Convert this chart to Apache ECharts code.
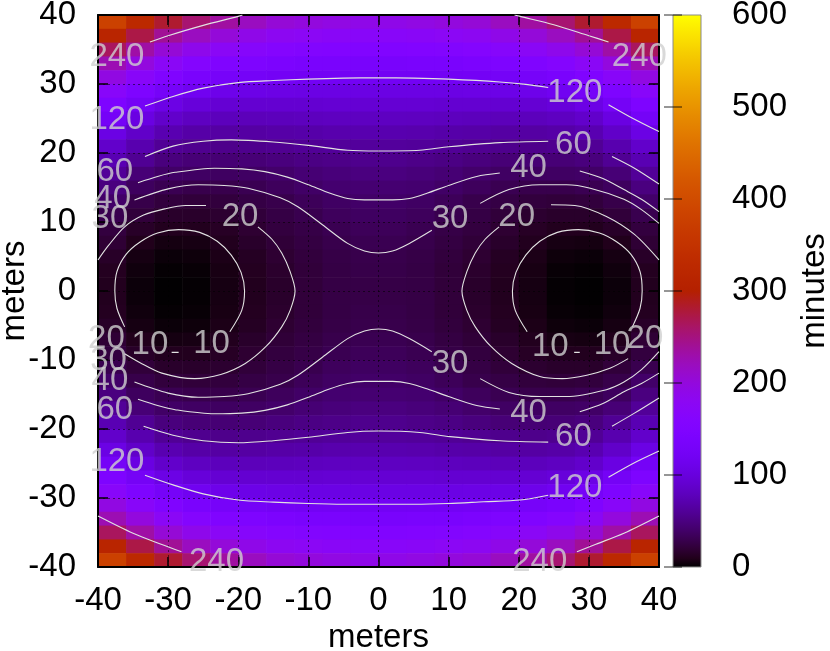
<!DOCTYPE html>
<html lang="en">
<head>
<meta charset="UTF-8">
<title>minutes map</title>
<script src="https://cdn.jsdelivr.net/npm/echarts@6/dist/echarts.min.js"></script>
<style>
    html, body { margin: 0; padding: 0; background: #fff; }
    #main { width: 830px; height: 651px; }
</style>
</head>
<body>
<div id="main"></div>
<script>
// cell centres in metres: cells are 4 m wide and 2 m tall
const xCells = [-38, -34, -30, -26, -22, -18, -14, -10, -6, -2, 2, 6, 10, 14, 18, 22, 26, 30, 34, 38];
const yCells = [39, 37, 35, 33, 31, 29, 27, 25, 23, 21, 19, 17, 15, 13, 11, 9, 7, 5, 3, 1,
    -1, -3, -5, -7, -9, -11, -13, -15, -17, -19, -21, -23, -25, -27, -29, -31, -33, -35, -37, -39];

// minutes, one row per yCells entry
const minutes = [
    [379, 326, 282, 256, 235, 219, 205, 200, 195, 191, 191, 195, 200, 205, 219, 235, 256, 282, 326, 379],
    [315, 273, 240, 219, 203, 191, 181, 177, 173, 170, 170, 173, 177, 181, 191, 203, 219, 240, 273, 315],
    [264, 233, 205, 188, 175, 166, 159, 156, 154, 152, 152, 154, 156, 159, 166, 175, 188, 205, 233, 264],
    [226, 199, 175, 161, 151, 145, 141, 138, 137, 135, 135, 137, 138, 141, 145, 151, 161, 175, 199, 226],
    [196, 170, 150, 138, 130, 126, 124, 122, 121, 121, 121, 121, 122, 124, 126, 130, 138, 150, 170, 196],
    [169, 146, 128, 118, 111, 108, 107, 106, 106, 106, 106, 106, 106, 107, 108, 111, 118, 128, 146, 169],
    [146, 125, 107, 98, 93, 92, 92, 92, 93, 93, 93, 93, 92, 92, 92, 93, 98, 107, 125, 146],
    [126, 104, 88, 82, 79, 78, 79, 80, 81, 82, 82, 81, 80, 79, 78, 79, 82, 88, 104, 126],
    [106, 87, 73, 68, 66, 66, 68, 69, 71, 72, 72, 71, 69, 68, 66, 66, 68, 73, 87, 106],
    [88, 72, 60, 57, 55, 56, 58, 60, 62, 63, 63, 62, 60, 58, 56, 55, 57, 60, 72, 88],
    [74, 59, 49, 46, 45, 46, 49, 52, 54, 56, 56, 54, 52, 49, 46, 45, 46, 49, 59, 74],
    [61, 46, 39, 38, 37, 38, 41, 45, 48, 50, 50, 48, 45, 41, 38, 37, 38, 39, 46, 61],
    [50, 36, 31, 29, 29, 31, 35, 39, 43, 44, 44, 43, 39, 35, 31, 29, 29, 31, 36, 50],
    [40, 28, 23, 22, 23, 26, 29, 34, 38, 40, 40, 38, 34, 29, 26, 23, 22, 23, 28, 40],
    [30, 22, 16, 16, 18, 22, 26, 30, 35, 37, 37, 35, 30, 26, 22, 18, 16, 16, 22, 30],
    [24, 15, 11, 11, 14, 19, 24, 27, 31, 34, 34, 31, 27, 24, 19, 14, 11, 11, 15, 24],
    [20, 10, 6.4, 7.1, 11, 16, 21, 25, 29, 31, 31, 29, 25, 21, 16, 11, 7.1, 6.4, 10, 20],
    [15, 6.7, 3.3, 4.1, 8.6, 13, 19, 23, 27, 29, 29, 27, 23, 19, 13, 8.6, 4.1, 3.3, 6.7, 15],
    [12, 4.7, 1.4, 2.3, 7.2, 12, 17, 22, 26, 28, 28, 26, 22, 17, 12, 7.2, 2.3, 1.4, 4.7, 12],
    [11, 3.6, 0.6, 1.6, 6.6, 11, 16, 22, 26, 27, 27, 26, 22, 16, 11, 6.6, 1.6, 0.6, 3.6, 11],
    [11, 3.6, 0.6, 1.6, 6.6, 11, 16, 22, 26, 27, 27, 26, 22, 16, 11, 6.6, 1.6, 0.6, 3.6, 11],
    [12, 4.7, 1.4, 2.3, 7.2, 12, 17, 22, 26, 28, 28, 26, 22, 17, 12, 7.2, 2.3, 1.4, 4.7, 12],
    [15, 6.7, 3.3, 4.1, 8.6, 13, 19, 23, 27, 29, 29, 27, 23, 19, 13, 8.6, 4.1, 3.3, 6.7, 15],
    [20, 10, 6.4, 7.1, 11, 16, 21, 25, 29, 31, 31, 29, 25, 21, 16, 11, 7.1, 6.4, 10, 20],
    [24, 15, 11, 11, 14, 19, 24, 27, 31, 34, 34, 31, 27, 24, 19, 14, 11, 11, 15, 24],
    [30, 22, 16, 16, 18, 22, 26, 30, 35, 37, 37, 35, 30, 26, 22, 18, 16, 16, 22, 30],
    [40, 28, 23, 22, 23, 26, 29, 34, 38, 40, 40, 38, 34, 29, 26, 23, 22, 23, 28, 40],
    [50, 36, 31, 29, 29, 31, 35, 39, 43, 44, 44, 43, 39, 35, 31, 29, 29, 31, 36, 50],
    [61, 46, 39, 38, 37, 38, 41, 45, 48, 50, 50, 48, 45, 41, 38, 37, 38, 39, 46, 61],
    [74, 59, 49, 46, 45, 46, 49, 52, 54, 56, 56, 54, 52, 49, 46, 45, 46, 49, 59, 74],
    [88, 72, 60, 57, 55, 56, 58, 60, 62, 63, 63, 62, 60, 58, 56, 55, 57, 60, 72, 88],
    [106, 87, 73, 68, 66, 66, 68, 69, 71, 72, 72, 71, 69, 68, 66, 66, 68, 73, 87, 106],
    [126, 104, 88, 82, 79, 78, 79, 80, 81, 82, 82, 81, 80, 79, 78, 79, 82, 88, 104, 126],
    [146, 125, 107, 98, 93, 92, 92, 92, 93, 93, 93, 93, 92, 92, 92, 93, 98, 107, 125, 146],
    [169, 146, 128, 118, 111, 108, 107, 106, 106, 106, 106, 106, 106, 107, 108, 111, 118, 128, 146, 169],
    [196, 170, 150, 138, 130, 126, 124, 122, 121, 121, 121, 121, 122, 124, 126, 130, 138, 150, 170, 196],
    [226, 199, 175, 161, 151, 145, 141, 138, 137, 135, 135, 137, 138, 141, 145, 151, 161, 175, 199, 226],
    [264, 233, 205, 188, 175, 166, 159, 156, 154, 152, 152, 154, 156, 159, 166, 175, 188, 205, 233, 264],
    [315, 273, 240, 219, 203, 191, 181, 177, 173, 170, 170, 173, 177, 181, 191, 203, 219, 240, 273, 315],
    [379, 326, 282, 256, 235, 219, 205, 200, 195, 191, 191, 195, 200, 205, 219, 235, 256, 282, 326, 379]
];

// contour lines, split into pieces where a label sits on them
const contour10 = [
    [[-36.2, -5.2], [-37.3, -2.5], [-37.6, 0], [-37.3, 2.8], [-36, 5.3], [-34, 7.1], [-31.5, 8.4], [-28.5, 8.9], [-25.5, 8.5], [-23, 7.2], [-21, 5.2], [-19.6, 2.7], [-19.1, 0], [-19.5, -2.8], [-21.2, -5.9]],
    [[-29.5, -8.9], [-28.5, -8.9]],
    [[21.2, -5.9], [19.5, -2.8], [19.1, 0], [19.6, 2.7], [21, 5.2], [23, 7.2], [25.5, 8.5], [28.5, 8.9], [31.5, 8.4], [34, 7.1], [36, 5.3], [37.3, 2.8], [37.6, 0], [37.3, -2.5], [36.2, -5.2]],
    [[27.9, -8.9], [28.7, -8.9]]
];
const contour20 = [
    [[-40, 4.5], [-38.5, 6.6], [-36.2, 9.3], [-33.5, 11], [-30.5, 11.9], [-27.5, 12.4], [-24.6, 12.4]],
    [[-17.2, 9.3], [-15.2, 7.5], [-13.8, 5.5], [-12.6, 2.8], [-11.9, 0], [-12.6, -2.8], [-13.8, -5.2], [-16, -8], [-19, -10.5], [-22.5, -12.1], [-26.2, -12.7], [-30.9, -11.9], [-34, -10.4], [-36.2, -9.1]],
    [[17.2, 9.3], [15.2, 7.5], [13.8, 5.5], [12.6, 2.8], [11.9, 0], [12.6, -2.8], [13.8, -5.2], [16, -8], [19, -10.5], [23, -12.4], [26.2, -12.7], [29.7, -12.2], [33, -11.2], [35.6, -9.8]],
    [[24.6, 12.5], [28, 12.4], [32.5, 10.8], [36.5, 8.2], [40, 4.5]]
];
const contour30 = [
    [[-34.8, 13.2], [-30, 14.8], [-25.7, 15.4], [-22, 15.3], [-18.6, 14.9], [-14, 13.5], [-11.5, 12.2], [-8, 9.6], [-4.4, 6.9], [-2, 5.8], [0, 5.5], [2, 5.8], [4.4, 6.9], [7.6, 8.8]],
    [[14.5, 12.7], [18.6, 14.7], [23, 15.4], [26.8, 15.4], [30.2, 14.9], [35, 13.3], [37.5, 11.8], [40, 9.8]],
    [[-34.8, -13.2], [-30, -14.8], [-25.7, -15.4], [-22, -15.3], [-18.6, -14.9], [-14, -13.5], [-11.5, -12.2], [-8, -9.6], [-4.4, -6.9], [-2, -5.8], [0, -5.5], [2, -5.8], [4.4, -6.9], [7.6, -8.8]],
    [[14.5, -12.7], [18.6, -14.7], [23, -15.3], [26.8, -15.3], [32.5, -14.3], [35, -13.2], [37.5, -11.4], [40, -8.8]]
];
const contour40 = [
    [[-34.3, 15.7], [-31.5, 16.6], [-29, 17.2], [-23.4, 17.8], [-19.5, 17.7], [-16.2, 17.3], [-13, 16.5], [-10, 15.4], [-7, 14.2], [-4.4, 13.4], [-2, 13.2], [0, 13.2], [2, 13.2], [4.4, 13.4], [7, 14.2], [10, 15.3], [14, 16.6], [17.3, 17.1]],
    [[28.7, 17.4], [32, 16.3], [35, 14.7], [37.5, 13.3], [40, 11.5]],
    [[-34.3, -15.7], [-31.5, -16.6], [-29, -17.2], [-23.4, -17.8], [-19.5, -17.7], [-16.2, -17.3], [-13, -16.5], [-10, -15.4], [-7, -14.2], [-4.4, -13.4], [-2, -13.1], [0, -13.1], [2, -13.1], [4.4, -13.4], [7, -14.2], [10, -15.3], [14, -16.6], [17.3, -17.1]],
    [[28.7, -17.5], [32, -16.3], [35, -14.6], [37.5, -13.4], [40, -11.9]]
];
const contour60 = [
    [[-33.3, 19.5], [-29.3, 21], [-25, 21.7], [-21, 21.9], [-15, 21.6], [-10, 21.1], [-4.4, 20.4], [0, 20.3], [5.9, 20.4], [10, 20.9], [17.3, 21.5], [24.2, 21.7]],
    [[33.3, 19.5], [36.5, 17.8], [40, 15.5]],
    [[-33.5, -19.6], [-29.3, -20.9], [-25, -21.7], [-20, -22], [-15, -21.7], [-10, -21.2], [-4.4, -20.5], [0, -20.3], [5.9, -20.5], [10.2, -21.1], [17.3, -21.7], [24.2, -21.9]],
    [[33.3, -19.6], [36.5, -17.7], [40, -15.5]]
];
const contour120 = [
    [[-33.3, 26.8], [-29.3, 28.2], [-25, 29.4], [-20, 30.2], [-15, 30.5], [-10, 30.7], [-5, 30.85], [0, 30.9], [5, 30.85], [10, 30.7], [17.3, 30.3], [21, 29.95], [24.2, 29.5]],
    [[32.8, 27], [36.3, 25], [40, 23.1]],
    [[-33.3, -26.7], [-29.3, -28.1], [-25, -29.4], [-20, -30.3], [-15, -30.6], [-10, -30.8], [-5, -30.9], [0, -30.9], [5, -30.9], [10, -30.8], [15, -30.55], [20.2, -30.3], [24.2, -29.6]],
    [[32.8, -27], [36.3, -25], [40, -23.2]]
];
const contour240 = [
    [[-32.6, 36.1], [-30, 37], [-25, 38.5], [-20, 39.8], [-19.4, 40]],
    [[19.4, 40], [20.2, 39.8], [25, 38.6], [30, 37], [32.8, 36.1]],
    [[-40, -32.6], [-35, -35.1], [-31, -36.7], [-28.1, -37.8]],
    [[28.3, -37.8], [31, -36.7], [35, -35.1], [40, -32.6]]
];

// contour labels: x, y, text
const contourLabels = [
    [-37.3, 33.9, '240'], [-37.3, 24.8, '120'], [-37.6, 17.3, '60'], [-37.9, 13.3, '40'], [-38.3, 10.5, '30'], [-19.75, 10.8, '20'],
    [10.2, 10.5, '30'], [19.7, 10.8, '20'], [21.4, 17.8, '40'], [27.8, 21.2, '60'], [28, 28.7, '120'], [37.2, 33.9, '240'],
    [-38.8, -6.9, '20'], [-32.6, -7.8, '10'], [-23.8, -7.6, '10'], [-38.5, -10.2, '30'], [-38.3, -13.1, '40'], [-37.6, -17.2, '60'], [-37.3, -24.7, '120'], [-23.1, -39.2, '240'],
    [10.2, -10.5, '30'], [21.4, -17.7, '40'], [27.8, -21.1, '60'], [28, -28.6, '120'], [23, -39.2, '240'], [24.5, -8.1, '10'], [33.3, -7.8, '10'], [38, -6.9, '20']
];

// gnuplot's default palette (rgbformulae 7,5,15)
const palette = [];
for (let i = 0; i <= 60; i++) {
    const g = i / 60;
    const r = Math.round(255 * Math.sqrt(g));
    const gg = Math.round(255 * g * g * g);
    const b = Math.round(255 * Math.max(0, Math.sin(2 * Math.PI * g)));
    palette.push('rgb(' + r + ',' + gg + ',' + b + ')');
}
const paletteStops = palette.map(function (c, i) {
    return { offset: i / (palette.length - 1), color: c };
});

const cells = [];
yCells.forEach(function (y, j) {
    xCells.forEach(function (x, i) {
        cells.push([x, y, minutes[j][i]]);
    });
});

const font = "'Liberation Sans', Arial, sans-serif";
const tickText = { fontFamily: font, fontSize: 33, color: '#000' };
const frameLine = { onZero: false, lineStyle: { color: '#000', width: 2 } };
const innerTick = { inside: true, length: 10, lineStyle: { color: '#000', width: 1.5 } };
const dotted = { show: true, lineStyle: { color: '#000', type: [2, 3], width: 1, opacity: 0.55 } };

let myChart = echarts.init(document.getElementById('main'));

let series = [
    {
        type: 'custom',
        xAxisIndex: 0,
        yAxisIndex: 0,
        z: 1,
        silent: true,
        renderItem: function (params, api) {
            const x = api.value(0), y = api.value(1);
            const p0 = api.coord([x - 2, y + 1]);
            const p1 = api.coord([x + 2, y - 1]);
            return {
                type: 'rect',
                shape: { x: p0[0], y: p0[1], width: p1[0] - p0[0] + 0.6, height: p1[1] - p0[1] + 0.6 },
                style: { fill: api.visual('color') }
            };
        },
        data: cells
    },
    {
        type: 'custom',
        xAxisIndex: 2,
        yAxisIndex: 2,
        z: 1,
        silent: true,
        renderItem: function (params, api) {
            const a = api.coord([0, 600]);
            const b = api.coord([1, 0]);
            return {
                type: 'rect',
                shape: { x: a[0], y: a[1], width: b[0] - a[0], height: b[1] - a[1] },
                style: {
                    fill: new echarts.graphic.LinearGradient(0, 1, 0, 0, paletteStops),
                    stroke: '#8a8a8a',
                    lineWidth: 1
                }
            };
        },
        data: [[0, 0]]
    }
];

[contour10, contour20, contour30, contour40, contour60, contour120, contour240].forEach(function (pieces) {
    pieces.forEach(function (piece) {
        series.push({
            type: 'line',
            xAxisIndex: 0,
            yAxisIndex: 0,
            data: piece,
            symbol: 'none',
            smooth: 0.3,
            silent: true,
            z: 5,
            lineStyle: { color: '#e2e2e2', width: 1.1 }
        });
    });
});

series.push({
    type: 'scatter',
    xAxisIndex: 0,
    yAxisIndex: 0,
    z: 6,
    silent: true,
    symbolSize: 1,
    itemStyle: { color: 'rgba(0,0,0,0)' },
    label: {
        show: true,
        position: 'inside',
        formatter: '{b}',
        color: '#d0d0d0',
        fontFamily: font,
        fontSize: 33,
        textBorderWidth: 0
    },
    data: contourLabels.map(function (l) {
        return { value: [l[0], l[1]], name: l[2] };
    })
});

let option = {
    animation: false,
    backgroundColor: '#fff',
    grid: [
        { left: 98, top: 15, width: 561, height: 552, containLabel: false, outerBoundsMode: 'none' },
        { left: 673, top: 15, width: 28, height: 552, containLabel: false, outerBoundsMode: 'none' }
    ],
    visualMap: {
        show: false,
        type: 'continuous',
        min: 0,
        max: 600,
        dimension: 2,
        seriesIndex: 0,
        inRange: { color: palette }
    },
    xAxis: [
        {
            gridIndex: 0, type: 'value', min: -40, max: 40, interval: 10, position: 'bottom', z: 4,
            name: 'meters', nameLocation: 'middle', nameGap: 54, nameMoveOverlap: false, nameTextStyle: tickText,
            axisLine: frameLine, axisTick: innerTick,
            axisLabel: Object.assign({ margin: 17 }, tickText),
            splitLine: dotted
        },
        {
            gridIndex: 0, type: 'value', min: -40, max: 40, interval: 10, position: 'top', z: 4,
            axisLine: frameLine, axisTick: innerTick,
            axisLabel: { show: false }, splitLine: { show: false }
        },
        { gridIndex: 1, type: 'value', min: 0, max: 1, show: false }
    ],
    yAxis: [
        {
            gridIndex: 0, type: 'value', min: -40, max: 40, interval: 10, position: 'left', z: 4,
            name: 'meters', nameLocation: 'middle', nameRotate: 90, nameGap: 67, nameMoveOverlap: false, nameTextStyle: tickText,
            axisLine: frameLine, axisTick: innerTick,
            axisLabel: Object.assign({ margin: 22 }, tickText),
            splitLine: dotted
        },
        {
            gridIndex: 0, type: 'value', min: -40, max: 40, interval: 10, position: 'right', z: 4,
            axisLine: frameLine, axisTick: innerTick,
            axisLabel: { show: false }, splitLine: { show: false }
        },
        {
            gridIndex: 1, type: 'value', min: 0, max: 600, interval: 100, position: 'right', z: 4,
            name: 'minutes', nameLocation: 'middle', nameRotate: 90, nameGap: 97, nameMoveOverlap: false, nameTextStyle: tickText,
            axisLine: { show: false },
            axisTick: { inside: true, length: 9, lineStyle: { color: 'rgba(0,0,0,0.55)', width: 1.5 } },
            axisLabel: Object.assign({ margin: 31 }, tickText),
            splitLine: { show: false }
        },
        {
            gridIndex: 1, type: 'value', min: 0, max: 600, interval: 100, position: 'left', z: 4,
            axisLine: { show: false },
            axisTick: { inside: true, length: 9, lineStyle: { color: 'rgba(0,0,0,0.55)', width: 1.5 } },
            axisLabel: { show: false },
            splitLine: { show: false }
        }
    ],
    series: series
};

myChart.setOption(option);
</script>
</body>
</html>
